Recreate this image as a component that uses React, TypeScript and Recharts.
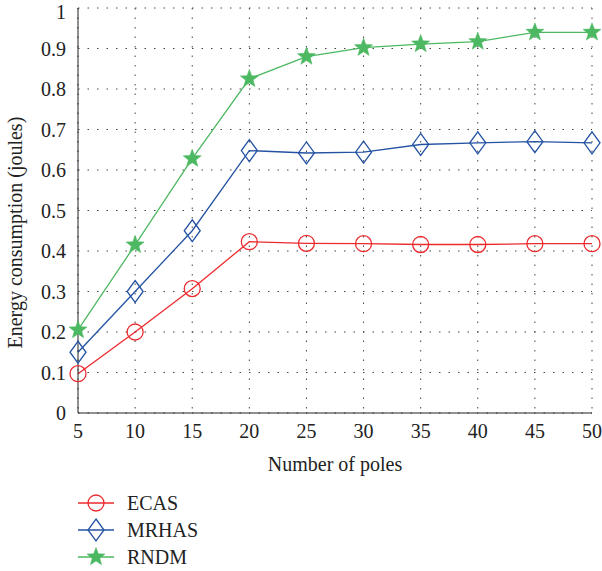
import {
  CartesianGrid,
  LineChart,
  Line,
  XAxis,
  YAxis,
} from 'recharts';

const poles = [5, 10, 15, 20, 25, 30, 35, 40, 45, 50];
const ecas = [0.097, 0.2, 0.307, 0.423, 0.419, 0.418, 0.416, 0.416, 0.418, 0.418];
const mrhas = [0.15, 0.3, 0.45, 0.648, 0.642, 0.644, 0.663, 0.667, 0.67, 0.667];
const rndm = [0.205, 0.415, 0.628, 0.825, 0.88, 0.902, 0.911, 0.917, 0.94, 0.94];
const xTicks = [5, 10, 15, 20, 25, 30, 35, 40, 45, 50];
const yTicks = [0, 0.1, 0.2, 0.3, 0.4, 0.5, 0.6, 0.7, 0.8, 0.9, 1];

const RED = '#ec2a2e';
const BLUE = '#2453a3';
const GREEN = '#4db862';
const FONT = '"Liberation Serif", "DejaVu Serif", serif';
const FS = 20;

const data = poles.map((p, i) => ({ p, ecas: ecas[i], mrhas: mrhas[i], rndm: rndm[i] }));

function circle(cx: number, cy: number, key?: string) {
  return <circle key={key} cx={cx} cy={cy} r={8} fill="none" stroke={RED} strokeWidth={1.3} />;
}
function diamond(cx: number, cy: number, key?: string) {
  return (
    <polygon
      key={key}
      points={`${cx},${cy - 11} ${cx + 8},${cy} ${cx},${cy + 11} ${cx - 8},${cy}`}
      fill="none"
      stroke={BLUE}
      strokeWidth={1.3}
    />
  );
}
function star(cx: number, cy: number, key?: string) {
  const pts: string[] = [];
  for (let k = 0; k < 10; k++) {
    const r = k % 2 === 0 ? 9.5 : 4;
    const a = -Math.PI / 2 + (k * Math.PI) / 5;
    pts.push(`${cx + r * Math.cos(a)},${cy + r * Math.sin(a)}`);
  }
  return <polygon key={key} points={pts.join(' ')} fill={GREEN} stroke={GREEN} strokeWidth={0.5} />;
}

const dotOf = (fn: (x: number, y: number, k?: string) => any) => (props: any) =>
  fn(props.cx, props.cy, `d${props.index}`);

const legendItems = [
  { name: 'ECAS', color: RED, mark: circle },
  { name: 'MRHAS', color: BLUE, mark: diamond },
  { name: 'RNDM', color: GREEN, mark: star },
];

export default function App() {
  return (
    <div style={{ position: 'absolute', left: 0, top: 0, width: 602, height: 571, background: '#fff' }}>
      <LineChart
        width={602}
        height={571}
        data={data}
        margin={{ top: 8, right: 10, bottom: 128, left: 30 }}
      >
        <CartesianGrid
          stroke="#444"
          strokeDasharray="1.5 8"
          horizontalValues={yTicks}
          verticalValues={xTicks}
        />
        <XAxis
          dataKey="p"
          type="number"
          domain={[5, 50]}
          ticks={xTicks}
          stroke="#222"
          tickLine={false}
          tick={{ fill: '#222', fontSize: FS, fontFamily: FONT }}
          tickMargin={5}
          label={{
            value: 'Number of poles',
            position: 'insideBottom',
            offset: -28,
            fill: '#222',
            fontSize: FS,
            fontFamily: FONT,
          }}
        />
        <XAxis
          xAxisId="top"
          dataKey="p"
          type="number"
          domain={[5, 50]}
          orientation="top"
          stroke="#222"
          tick={false}
          tickLine={false}
          height={0}
        />
        <YAxis
          type="number"
          domain={[0, 1]}
          ticks={yTicks}
          stroke="#222"
          width={48}
          tickLine={false}
          tickMargin={6}
          tickFormatter={(v: number) => String(Math.round(v * 10) / 10)}
          tick={{ fill: '#222', fontSize: FS, fontFamily: FONT }}
          label={{
            value: 'Energy consumption (joules)',
            angle: -90,
            position: 'insideLeft',
            offset: -15,
            dy: 138,
            fill: '#222',
            fontSize: FS,
            fontFamily: FONT,
          }}
        />
        <YAxis
          yAxisId="right"
          orientation="right"
          domain={[0, 1]}
          stroke="#222"
          tick={false}
          tickLine={false}
          width={0}
        />
        <Line
          dataKey="ecas"
          stroke={RED}
          strokeWidth={1.3}
          dot={dotOf(circle)}
          isAnimationActive={false}
        />
        <Line
          dataKey="mrhas"
          stroke={BLUE}
          strokeWidth={1.3}
          dot={dotOf(diamond)}
          isAnimationActive={false}
        />
        <Line
          dataKey="rndm"
          stroke={GREEN}
          strokeWidth={1.3}
          dot={dotOf(star)}
          isAnimationActive={false}
        />
        {legendItems.map((it, i) => {
          const y = 503 + i * 27;
          return (
            <g key={it.name}>
              <line x1={78} x2={114} y1={y} y2={y} stroke={it.color} strokeWidth={1.3} />
              {it.mark(96, y)}
              <text x={127} y={y + 7} fill="#222" fontSize={FS} fontFamily={FONT}>
                {it.name}
              </text>
            </g>
          );
        })}
      </LineChart>
    </div>
  );
}
